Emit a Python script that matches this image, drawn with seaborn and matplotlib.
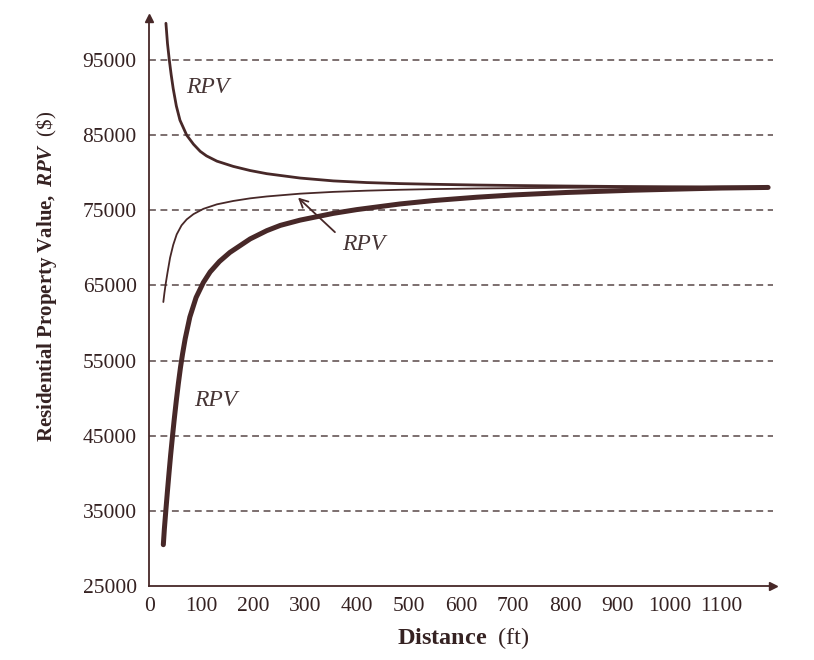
import matplotlib
matplotlib.use("Agg")
import matplotlib.pyplot as plt
import seaborn as sns

# values: distance (ft) and residential property value ($)
upper_dist = [32, 35, 38.5, 42, 46, 52, 59, 72, 85, 98, 110, 130, 161.5, 194, 226,
              290, 354, 418, 482, 546, 630, 700, 800, 900, 1000, 1190]
upper_rpv = [99900, 97200, 95000, 93100, 91200, 88900, 87000, 85000, 83800, 82850,
             82250, 81550, 80850, 80300, 79880, 79300, 78920, 78700, 78560, 78470,
             78370, 78310, 78240, 78180, 78140, 78100]

middle_dist = [27, 29, 31.5, 35, 40, 46, 52.7, 62, 72, 85, 104, 130, 161.5, 194, 226,
               290, 354, 418, 482, 546, 630, 800, 1000, 1190]
middle_rpv = [62800, 63950, 65200, 66700, 68700, 70400, 71800, 73000, 73800, 74500,
              75200, 75800, 76250, 76600, 76850, 77220, 77460, 77620, 77740, 77830,
              77910, 78010, 78070, 78100]

lower_dist = [27, 29, 32, 35, 38, 41, 45, 48, 52, 56, 60, 64, 69, 78, 90, 104, 117, 135,
              155, 194, 226, 252, 290, 354, 399, 482, 546, 630, 700, 802, 930, 1027,
              1100, 1190]
lower_rpv = [30500, 32600, 35200, 37700, 40100, 42400, 45200, 47200, 49700, 52000,
             54100, 55900, 57900, 60800, 63400, 65400, 66800, 68200, 69400, 71200,
             72300, 73000, 73700, 74600, 75100, 75850, 76300, 76750, 77050, 77380,
             77680, 77850, 77970, 78050]

y_ticks = [25000, 35000, 45000, 55000, 65000, 75000, 85000, 95000]
x_ticks = [0, 100, 200, 300, 400, 500, 600, 700, 800, 900, 1000, 1100]

line_col = "#472828"
text_col = "#352222"

sns.set_style("white")
plt.rcParams["font.family"] = ["Liberation Serif", "DejaVu Serif"]
plt.rcParams["mathtext.fontset"] = "custom"
plt.rcParams["mathtext.rm"] = "Liberation Serif"
plt.rcParams["mathtext.it"] = "Liberation Serif:italic"
plt.rcParams["mathtext.bf"] = "Liberation Serif:bold"
plt.rcParams["mathtext.bfit"] = "Liberation Serif:italic:bold"

fig = plt.figure(figsize=(8.14, 6.6), dpi=100)
ax = fig.add_axes([0.1834, 0.1121, 0.7666, 0.8606])

# dashed reference lines
for v in y_ticks[1:]:
    ax.axhline(v, color="#594848", lw=1.1, ls=(0, (4.5, 3)), zorder=1)

sns.lineplot(x=upper_dist, y=upper_rpv, ax=ax, color=line_col, lw=2.0, zorder=3,
             solid_joinstyle="round")
sns.lineplot(x=middle_dist, y=middle_rpv, ax=ax, color=line_col, lw=1.3, zorder=3,
             solid_joinstyle="round")
sns.lineplot(x=lower_dist, y=lower_rpv, ax=ax, color=line_col, lw=3.6, zorder=3,
             solid_joinstyle="round")

ax.set_xlim(0, 1200)
ax.set_ylim(25000, 100600)
ax.set_xticks(x_ticks)
ax.set_yticks(y_ticks)
ax.tick_params(direction="inout", length=10, width=1.2, colors=text_col,
               labelsize=15.5, pad=3)
ax.tick_params(axis="y", pad=4)

for side in ["top", "right"]:
    ax.spines[side].set_visible(False)
for side in ["left", "bottom"]:
    ax.spines[side].set_color(line_col)
    ax.spines[side].set_linewidth(1.3)

# axis arrow heads
ax.plot(1, 0, ">", color=line_col, ms=6, transform=ax.transAxes, clip_on=False)
ax.plot(0, 1, "^", color=line_col, ms=6, transform=ax.transAxes, clip_on=False)

# curve labels
label_col = "#463535"
ax.text(113, 91400, "RPV", style="italic", fontsize=17, color=label_col,
        ha="center", va="center")
ax.text(412, 70500, "RPV", style="italic", fontsize=17, color=label_col,
        ha="center", va="center")
ax.text(127, 49750, "RPV", style="italic", fontsize=17, color=label_col,
        ha="center", va="center")
ax.annotate("", xy=(286, 76700), xytext=(357, 72100),
            arrowprops=dict(arrowstyle="->,head_length=0.6,head_width=0.3",
                            color=line_col, lw=1.3, shrinkA=0, shrinkB=0))

fig.text(47 / 814, 1 - 276 / 660,
         r"$\mathbf{Residential\ Property\ Value,}\ \mathbfit{RPV}\ \ \mathrm{(\$)}$",
         rotation=90, ha="center", va="center", fontsize=15, color=text_col)
fig.text(463 / 814, 1 - 638 / 660, r"$\mathbf{Distance}\ \ \mathrm{(ft)}$",
         ha="center", va="center", fontsize=17.5, color=text_col)

fig.savefig("out.png", dpi=100, facecolor="white")
